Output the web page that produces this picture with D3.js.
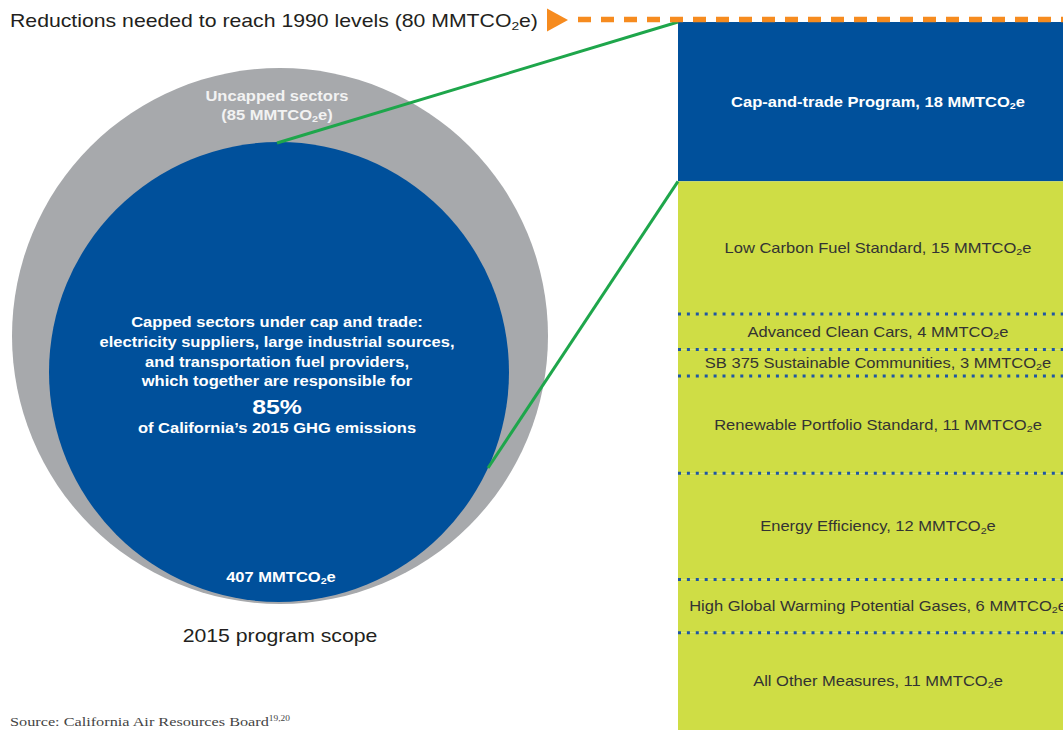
<!DOCTYPE html>
<html>
<head>
<meta charset="utf-8">
<script src="https://cdn.jsdelivr.net/npm/d3@7"></script>
<style>
  html, body { margin: 0; padding: 0; background: #ffffff; }
  svg { display: block; }
</style>
</head>
<body>
<svg id="chart" width="1063" height="730"></svg>
<script>
// ---- Data ----
const measures = [
  "Cap-and-trade Program",
  "Low Carbon Fuel Standard",
  "Advanced Clean Cars",
  "SB 375 Sustainable Communities",
  "Renewable Portfolio Standard",
  "Energy Efficiency",
  "High Global Warming Potential Gases",
  "All Other Measures"
];
const reductions = [18, 15, 4, 3, 11, 12, 6, 11];
const unit = "MMTCO₂e";
const sectors = ["Uncapped sectors", "Capped sectors"];
const sectorEmissions = [85, 407];
const cappedSharePct = [85];
const targetYear = ["1990"];
const programYear = ["2015"];
const capLines = [
  "Capped sectors under cap and trade:",
  "electricity suppliers, large industrial sources,",
  "and transportation fuel providers,",
  "which together are responsible for"
];

// ---- Styling / layout ----
const W = 1063, H = 730;
const BLUE = "#00509b", GRAY = "#a7a9ac", LIME = "#cfdd45", GREEN = "#1ea64b", ORANGE = "#f68b1f";
const SX = 1.18; // horizontal text stretch seen in the reference
const SANS = "'Liberation Sans', Arial, Helvetica, sans-serif";
const SERIF = "'Liberation Serif', 'Times New Roman', serif";

const svg = d3.select("#chart");

// text helper: renders "₂" as a real subscript tspan
function addText(x, y, str, o = {}) {
  const g = svg.append("g").attr("transform", `translate(${x},${y}) scale(${o.sx ?? SX},1)`);
  const t = g.append("text")
    .attr("x", 0).attr("y", 0)
    .attr("text-anchor", o.anchor || "middle")
    .attr("font-family", o.family || SANS)
    .attr("font-size", o.size || 14)
    .attr("font-weight", o.weight || "normal")
    .attr("fill", o.fill || "#222");
  const parts = str.split("₂");
  parts.forEach((p, i) => {
    if (i > 0) {
      t.append("tspan").attr("font-size", (o.size || 14) * 0.65).attr("dy", (o.size || 14) * 0.15).text("2");
      t.append("tspan").attr("dy", -(o.size || 14) * 0.15).text(p);
    } else {
      t.append("tspan").text(p);
    }
  });
  return t;
}

// ---- Right stack ----
const total = d3.sum(reductions);
const y = d3.scaleLinear().domain([0, total]).range([22, 730]);
const x = d3.scaleLinear().domain([0, 1]).range([678, 1078]);
const ends = d3.cumsum(reductions);
const blocks = reductions.map((v, i) => ({ name: measures[i], v, y0: ends[i] - v, y1: ends[i], i }));

svg.append("g").selectAll("rect").data(blocks).join("rect")
  .attr("x", x(0)).attr("width", x(1) - x(0))
  .attr("y", d => y(d.y0)).attr("height", d => y(d.y1) - y(d.y0))
  .attr("fill", d => d.i === 0 ? BLUE : LIME);

// dotted separators between the lime blocks
svg.append("g").selectAll("line").data(blocks.filter(d => d.i >= 2)).join("line")
  .attr("x1", x(0)).attr("x2", x(1))
  .attr("y1", d => y(d.y0)).attr("y2", d => y(d.y0))
  .attr("stroke", "#1f56a3").attr("stroke-width", 3).attr("stroke-dasharray", "3,5.9");

blocks.forEach(d => {
  const cy = (y(d.y0) + y(d.y1)) / 2;
  addText(x(0.5), cy + 5, `${d.name}, ${d.v} ${unit}`, {
    size: 14, weight: d.i === 0 ? "bold" : "normal", fill: d.i === 0 ? "#ffffff" : "#333333"
  });
});

// ---- Circles ----
const rScale = d3.scaleLinear().domain([0, 1]).range([0, 268]);
const outer = { cx: 280, cy: 336, r: rScale(1) };
const inner = { cx: 279, cy: 372, r: rScale(230 / 268) };

svg.append("circle").attr("cx", outer.cx).attr("cy", outer.cy).attr("r", outer.r).attr("fill", GRAY);
svg.append("circle").attr("cx", inner.cx).attr("cy", inner.cy).attr("r", inner.r).attr("fill", BLUE);

// connector lines
const topPt = [inner.cx - 2, inner.cy - inner.r + 1];
const ang = Math.asin((468 - inner.cy) / inner.r);
const sidePt = [inner.cx + inner.r * Math.cos(ang), 468];
svg.append("line").attr("x1", topPt[0]).attr("y1", topPt[1]).attr("x2", x(0)).attr("y2", y(0))
  .attr("stroke", GREEN).attr("stroke-width", 3);
svg.append("line").attr("x1", sidePt[0]).attr("y1", sidePt[1]).attr("x2", x(0)).attr("y2", y(reductions[0]))
  .attr("stroke", GREEN).attr("stroke-width", 3);

// circle texts
addText(277, 101, sectors[0], { size: 14, weight: "bold", fill: "#f2f2f2" });
addText(277, 120, `(${sectorEmissions[0]} ${unit})`, { size: 14, weight: "bold", fill: "#f2f2f2" });

const lineYs = [327, 347, 367, 386];
capLines.forEach((l, i) => addText(277, lineYs[i], l, { size: 14, weight: "bold", fill: "#ffffff" }));
addText(277, 414, `${cappedSharePct[0]}%`, { size: 21, weight: "bold", fill: "#ffffff" });
addText(277, 433, `of California’s ${programYear[0]} GHG emissions`, { size: 14, weight: "bold", fill: "#ffffff" });
addText(281, 582, `${sectorEmissions[1]} ${unit}`, { size: 14, weight: "bold", fill: "#ffffff" });

addText(280, 642, `${programYear[0]} program scope`, { size: 18, fill: "#231f20" });

// ---- Title + orange arrow ----
addText(10, 27, `Reductions needed to reach ${targetYear[0]} levels (${total} ${unit})`, { size: 18, anchor: "start", fill: "#231f20" });

svg.append("path").attr("d", d3.line()([[547, 8.5], [568, 20], [547, 31.5]]) + "Z").attr("fill", ORANGE);
svg.append("line").attr("x1", 578).attr("x2", W).attr("y1", 19.5).attr("y2", 19.5)
  .attr("stroke", ORANGE).attr("stroke-width", 5.5).attr("stroke-dasharray", "13,10");

// ---- Source ----
const src = addText(10, 726, "Source: California Air Resources Board", { size: 13, anchor: "start", family: SERIF, fill: "#444", sx: 1.25 });
src.append("tspan").attr("font-size", 7.5).attr("dy", -5).text("19,20");
</script>
</body>
</html>
